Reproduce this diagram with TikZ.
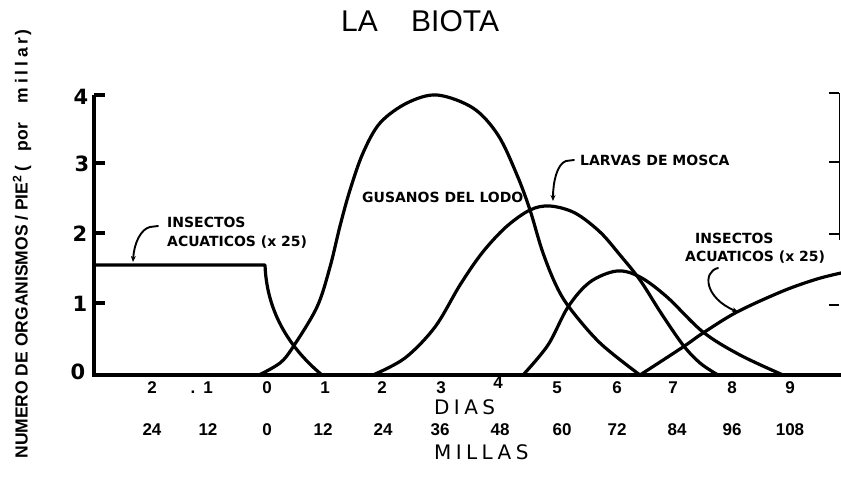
\documentclass[tikz,border=0pt]{standalone}
\usepackage{fontspec}
\setmainfont{Liberation Sans}
\newfontfamily\labfont{DejaVu Sans}
\newfontfamily\numfont{DejaVu Sans}
\newfontfamily\widefont[LetterSpace=22]{DejaVu Sans}
\usetikzlibrary{arrows.meta}
\tikzset{
  curve/.style={line width=3.2pt, line join=round, line cap=round},
  axisline/.style={line width=3.2pt, line join=miter},
  thinaxis/.style={line width=1pt},
  lbl/.style={font=\labfont\bfseries\fontsize{14}{14}\selectfont, inner sep=0pt, anchor=west},
  num/.style={font=\bfseries\fontsize{17}{17}\selectfont, inner sep=0pt},
  ytick/.style={font=\numfont\bfseries\fontsize{21}{21}\selectfont, inner sep=0pt},
  axname/.style={font=\widefont\fontsize{20}{20}\selectfont, inner sep=0pt, anchor=west},
  ptr/.style={line width=1.9pt, line cap=round, -{Stealth[length=6pt,width=5pt]}}
}
\begin{document}
\begin{tikzpicture}[x=1pt,y=-1pt]
\useasboundingbox (0,0) rectangle (841,483);
% title
\node[font=\fontsize{30}{30}\selectfont, inner sep=0pt, anchor=west] (tla) at (341,21.5) {LA};
\node[font=\fontsize{30}{30}\selectfont, inner sep=0pt, anchor=west] (tbiota) at (411,21.5) {BIOTA};
% y label
\node[rotate=90, font=\bfseries\fontsize{17.5}{17.5}\selectfont, inner sep=0pt] (ylab) at (22,244)
  {NUMERO DE ORGANISMOS / PIE\textsuperscript{2}\hspace{4pt}(\hspace{14pt}por\hspace{20pt}{\addfontfeatures{LetterSpace=22}millar}\hspace{2pt})};
% axes
\draw[axisline] (94,95) -- (94,375) -- (841,375);
\foreach \yy in {95,163,233,303} \draw[axisline] (94,\yy) -- (105,\yy);
\draw[thinaxis] (839,93) -- (839,240);
\foreach \yy in {93,162,234,305} \draw[line width=2pt] (829,\yy) -- (839,\yy);
\node[ytick] (y4) at (81,97) {4};
\node[ytick] (y3) at (82,164) {3};
\node[ytick] (y2) at (80,234) {2};
\node[ytick] (y1) at (80,304) {1};
\node[ytick] (y0) at (78,372) {0};
% day labels
\node[num] (dm2) at (152,388) {2};
\node[num, anchor=east] (dm1) at (213,388) {.\hspace{8pt}1};
\node[num] (d0) at (267,388) {0};
\node[num] (d1) at (325,388) {1};
\node[num] (d2) at (382,388) {2};
\node[num] (d3) at (441,388) {3};
\node[num] (d4) at (498,383) {4};
\node[num] (d5) at (557,388) {5};
\node[num] (d6) at (617,388) {6};
\node[num] (d7) at (673,388) {7};
\node[num] (d8) at (732,388) {8};
\node[num] (d9) at (790,388) {9};
\node[axname] (dias) at (434,407) {DIAS};
% mile labels
\node[num] (m1) at (152,430) {24};
\node[num] (m2) at (208,430) {12};
\node[num] (m3) at (267,430) {0};
\node[num] (m4) at (323,430) {12};
\node[num] (m5) at (383,430) {24};
\node[num] (m6) at (440,430) {36};
\node[num] (m7) at (500,430) {48};
\node[num] (m8) at (562,430) {60};
\node[num] (m9) at (617,430) {72};
\node[num] (m10) at (677,430) {84};
\node[num] (m11) at (732,430) {96};
\node[num] (m12) at (790,430) {108};
\node[axname] (millas) at (434,452) {MILLAS};
% curves
\draw[curve] (94,265) -- (265,265) .. controls (267,320) and (298,355) .. (322,375);
\draw[curve] plot[smooth, tension=0.55] coordinates {
  (259,375) (280,363) (293,347) (317,307) (330,267) (340,226) (350,190) (363,153)
  (380,123) (407,103) (437,95) (473,108) (498,135) (517,175) (530,210) (542,250)
  (555,283) (569,307) (600,343) (640,375)};
\draw[curve] plot[smooth, tension=0.55] coordinates {
  (373,375) (405,358) (435,327) (460,285) (482,253) (506,227) (530,210) (550,206)
  (575,213) (600,232) (620,255) (640,280) (661,313) (683,345) (700,363) (718,375)};
\draw[curve] plot[smooth, tension=0.55] coordinates {
  (523,375) (548,345) (568,307) (590,282) (617,271) (640,277) (667,297) (703,332)
  (740,355) (783,375)};
\draw[curve] plot[smooth, tension=0.55] coordinates {
  (640,375) (683,347) (703,333) (737,312) (783,291) (817,279) (841,273)};
% labels
\node[lbl] (insL1) at (167,222) {INSECTOS};
\node[lbl] (insL2) at (167,242) {ACUATICOS (x 25)};
\node[lbl] (gus) at (362,197) {GUSANOS DEL LODO};
\node[lbl] (larv) at (580,160) {LARVAS DE MOSCA};
\node[lbl] (insR1) at (695,238) {INSECTOS};
\node[lbl] (insR2) at (685,257) {ACUATICOS (x 25)};
% pointers
\coordinate (p1s) at (158,226);
\coordinate (p1e) at (133,262);
\draw[ptr] (p1s) -- (150,227) .. controls (141,229) and (134,243) .. (p1e);
\coordinate (p2s) at (574,160);
\coordinate (p2e) at (553,201);
\draw[ptr] (p2s) -- (566,161) .. controls (557,164) and (553,182) .. (p2e);
\coordinate (p3s) at (718,268);
\coordinate (p3e) at (738,312);
\draw[ptr] (p3s) .. controls (702,272) and (705,298) .. (p3e);
\end{tikzpicture}
\end{document}
